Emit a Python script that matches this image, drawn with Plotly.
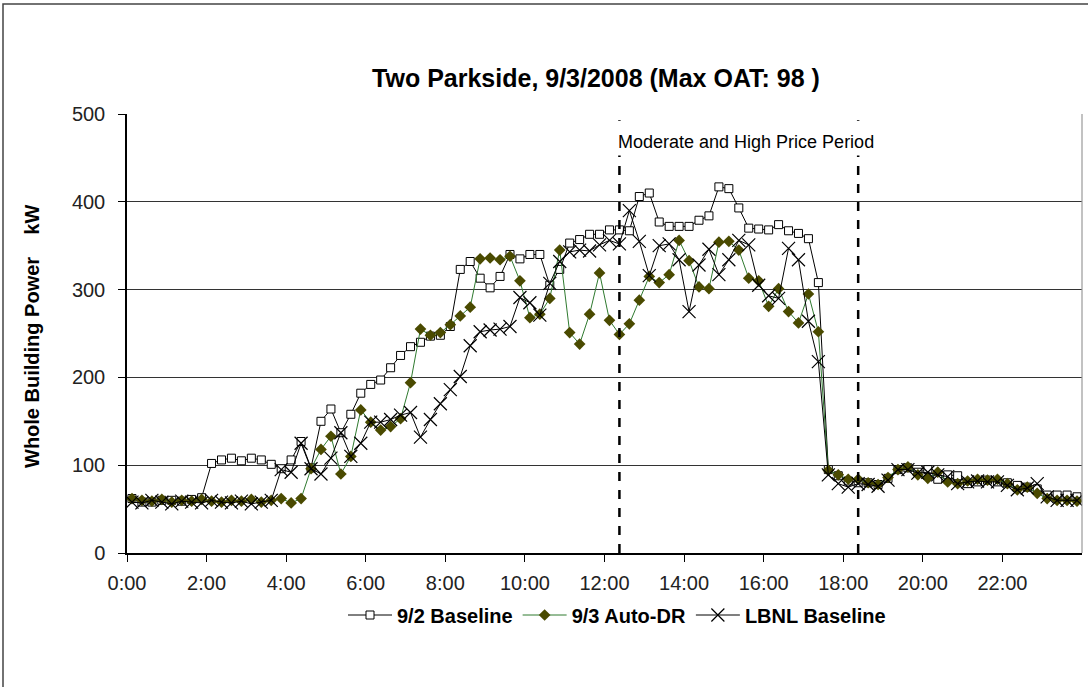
import plotly.graph_objects as go

# ---- data (15-minute intervals, 0:00 .. 23:45) ----
hours = [i * 0.25 for i in range(96)]

baseline_92 = [62, 58, 58, 60, 60, 59, 61, 63, 102, 106, 108, 105, 108, 106, 101, 96,
               106, 127, 97, 150, 164, 137, 158, 182, 192, 197, 211, 225, 235, 240, 247, 248,
               258, 323, 332, 313, 302, 315, 340, 335, 340, 340, 305, 323, 353, 357, 363, 363,
               368, 368, 367, 406, 410, 377, 372, 372, 372, 379, 384, 417, 415, 393, 370, 369,
               368, 374, 367, 364, 358, 308, 95, 88, 82, 80, 80, 78, 85, 95, 97, 92,
               95, 84, 89, 88, 79, 81, 83, 81, 80, 77, 75, 73, 66, 66, 66, 64]

auto_dr_93 = [62, 60, 59, 61, 58, 60, 59, 61, 59, 58, 60, 59, 61, 58, 60, 62,
              57, 62, 96, 118, 133, 90, 110, 163, 149, 140, 144, 153, 194, 255, 248, 251,
              260, 270, 280, 335, 336, 334, 338, 310, 268, 272, 290, 345, 251, 238, 272, 319,
              265, 249, 261, 288, 315, 308, 317, 356, 333, 303, 301, 354, 355, 345, 313, 310,
              281, 301, 275, 262, 295, 252, 94, 89, 84, 84, 80, 78, 86, 95, 98, 89,
              85, 92, 81, 79, 82, 84, 83, 84, 79, 72, 75, 68, 62, 60, 60, 59]

lbnl_baseline = [58, 57, 60, 58, 56, 59, 58, 57, 60, 58, 57, 59, 56, 58, 60, 95,
                 92, 125, 96, 90, 108, 137, 110, 125, 149, 149, 152, 157, 160, 132, 152, 170,
                 186, 201, 236, 252, 254, 255, 258, 291, 285, 271, 307, 332, 343, 345, 344, 351,
                 356, 352, 390, 355, 316, 350, 352, 334, 275, 328, 346, 317, 334, 356, 351, 305,
                 293, 290, 347, 334, 264, 218, 89, 79, 75, 79, 78, 76, 83, 95, 95, 91,
                 92, 89, 87, 79, 81, 82, 81, 81, 77, 72, 74, 79, 64, 60, 60, 60]

tick_labels = ["0:00", "2:00", "4:00", "6:00", "8:00", "10:00", "12:00",
               "14:00", "16:00", "18:00", "20:00", "22:00"]
period_start = 12.25
period_end = 18.25

title_text = "Two Parkside, 9/3/2008 (Max OAT: 98 )"
y_title = "Whole Building Power    kW"
period_label = "Moderate and High Price Period"

# ---- figure ----
fig = go.Figure()

fig.add_trace(go.Scatter(
    x=hours, y=baseline_92, name="9/2 Baseline", mode="lines+markers",
    line=dict(color="black", width=1),
    marker=dict(symbol="square", size=8, color="white", line=dict(color="black", width=1)),
))
fig.add_trace(go.Scatter(
    x=hours, y=auto_dr_93, name="9/3 Auto-DR", mode="lines+markers",
    line=dict(color="#2f7a2f", width=1),
    marker=dict(symbol="diamond", size=9, color="#4a4a00", line=dict(width=0)),
))
fig.add_trace(go.Scatter(
    x=hours, y=lbnl_baseline, name="LBNL Baseline", mode="lines+markers",
    line=dict(color="black", width=1),
    marker=dict(symbol="x-thin", size=13, color="black", line=dict(color="black", width=1.2)),
))

step = 0.25
x_lo = -step / 2
x_hi = hours[-1] + step / 2
tickvals = [x_lo + 2 * k for k in range(len(tick_labels))]

font_family = "Arial, Liberation Sans, sans-serif"

fig.update_layout(
    width=1088, height=687,
    margin=dict(l=127, r=6, t=114, b=134),
    paper_bgcolor="white", plot_bgcolor="white",
    font=dict(family=font_family, color="black"),
    title=dict(text="<b>" + title_text + "</b>", x=596 / 1088, xanchor="center",
               y=1 - 78 / 687, yanchor="middle",
               font=dict(size=25, family=font_family, color="black")),
    showlegend=True,
    legend=dict(orientation="h", x=(617 - 127) / 955, xanchor="center",
                y=(553 - 615) / 439, yanchor="middle",
                font=dict(size=20, family=font_family, color="black", weight="bold"),
                itemwidth=44, traceorder="normal", bgcolor="rgba(0,0,0,0)"),
    xaxis=dict(range=[x_lo, x_hi], tickvals=tickvals, ticktext=tick_labels,
               showgrid=False, zeroline=False, showline=True, linecolor="black", linewidth=1.5,
               ticks="outside", ticklen=7, tickcolor="black", tickwidth=1.2,
               ticklabelstandoff=4,
               tickfont=dict(size=20, color="#222")),
    yaxis=dict(range=[0, 500], dtick=100, showgrid=True, gridcolor="#333", gridwidth=1.3,
               zeroline=False, showline=True, linecolor="black", linewidth=1.5,
               ticks="outside", ticklen=7, tickcolor="black", tickwidth=1.2,
               ticklabelstandoff=9,
               tickfont=dict(size=20, color="#222")),
)

# right plot border (gray)
fig.add_shape(type="line", xref="paper", yref="paper", x0=1, x1=1, y0=0, y1=1,
              line=dict(color="#999", width=1.2))

# chart area border
fig.add_shape(type="rect", xref="paper", yref="paper",
              x0=(3 - 127) / 955, x1=(1100 - 127) / 955,
              y0=(553 - 720) / 439, y1=(553 - 4) / 439,
              line=dict(color="#444", width=1.5), fillcolor="rgba(0,0,0,0)", layer="below")

# price period dashed lines
for xv in (period_start, period_end):
    fig.add_shape(type="line", xref="x", yref="y", x0=xv, x1=xv, y0=0, y1=493,
                  line=dict(color="black", width=2.5, dash="dash"))

fig.add_annotation(x=(614 - 132) / 39.8, y=468, xref="x", yref="y", text=period_label,
                   showarrow=False, xanchor="left", yanchor="middle",
                   font=dict(size=18, family=font_family, color="black"),
                   bgcolor="white", borderpad=3)

fig.add_annotation(x=(32 - 127) / 955, y=(553 - 337) / 439, xref="paper", yref="paper",
                   text="<b>" + y_title + "</b>", textangle=-90, showarrow=False,
                   xanchor="center", yanchor="middle",
                   font=dict(size=20, family=font_family, color="black"))

fig.write_html("out.html", config={"displayModeBar": False},
               post_script="document.body.style.margin='0';")
